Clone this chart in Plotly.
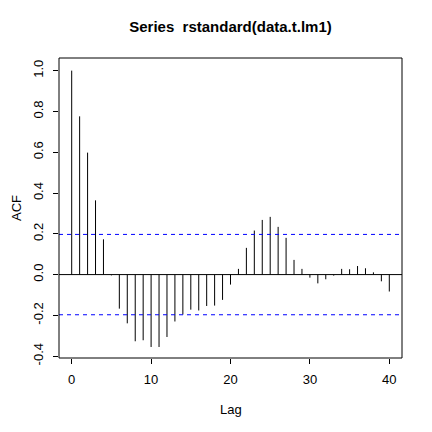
import numpy as np
import plotly.graph_objects as go

# ACF values, lag 0..40
lags = list(range(41))
acf = [1.0, 0.776, 0.598, 0.364, 0.173, -0.004, -0.167, -0.239, -0.327, -0.322,
       -0.355, -0.355, -0.306, -0.230, -0.196, -0.172, -0.176, -0.154, -0.152, -0.124,
       -0.049, 0.028, 0.131, 0.216, 0.268, 0.283, 0.234, 0.180, 0.072, 0.028,
       -0.015, -0.043, -0.023, -0.005, 0.028, 0.026, 0.042, 0.031, 0.011, -0.033,
       -0.083]
ci = 0.197

x_ticks = [0, 10, 20, 30, 40]
y_ticks = [-0.4, -0.2, 0.0, 0.2, 0.4, 0.6, 0.8, 1.0]

# spikes: one vertical segment per lag
xs, ys = [], []
for l, a in zip(lags, acf):
    xs += [l, l, None]
    ys += [0, a, None]

fig = go.Figure()
fig.add_trace(go.Scatter(x=xs, y=ys, mode="lines",
                         line=dict(color="black", width=1), showlegend=False))

fig.add_shape(type="line", x0=0, x1=1, xref="paper", y0=0, y1=0,
              line=dict(color="black", width=1))
for v in [ci, -ci]:
    fig.add_shape(type="line", x0=0, x1=1, xref="paper", y0=v, y1=v,
                  line=dict(color="blue", width=1, dash="4px,4px"))

# box round the plot region
fig.add_shape(type="rect", xref="paper", yref="paper", x0=0, x1=1, y0=0, y1=1,
              line=dict(color="black", width=1))

# axis titles
fig.add_annotation(text="Lag", xref="paper", yref="paper", x=0.5, y=-51 / 300,
                   yanchor="middle", showarrow=False, font=dict(size=13))
fig.add_annotation(text="ACF", xref="paper", yref="paper", x=-43 / 343, y=0.5,
                   xanchor="center", textangle=-90, showarrow=False, font=dict(size=13))

# page body adds 8px offset, so margins are shifted to compensate
fig.update_layout(
    width=432, height=432,
    margin=dict(l=51, r=38, t=50, b=82),
    paper_bgcolor="white", plot_bgcolor="white",
    font=dict(family="Liberation Sans, Arial", size=13, color="black"),
    title=dict(text="<b>Series  rstandard(data.t.lm1)</b>", x=222.5 / 432,
               xanchor="center", y=1 - 19 / 432, yanchor="middle",
               font=dict(size=15)),
)
fig.update_xaxes(range=[-1.6, 41.6], tickvals=x_ticks, ticks="outside", ticklen=5,
                 tickcolor="black", showgrid=False, zeroline=False, showline=False,
                 automargin=False, ticklabelstandoff=4)
fig.update_yaxes(range=[-0.409, 1.062], tickvals=y_ticks,
                 ticktext=["-0.4", "-0.2", "0.0", "0.2", "0.4", "0.6", "0.8", "1.0"],
                 tickangle=-90, ticks="outside", ticklen=5, tickcolor="black",
                 showgrid=False, zeroline=False, showline=False, automargin=False,
                 ticklabelstandoff=5)

fig.write_html("out.html")
